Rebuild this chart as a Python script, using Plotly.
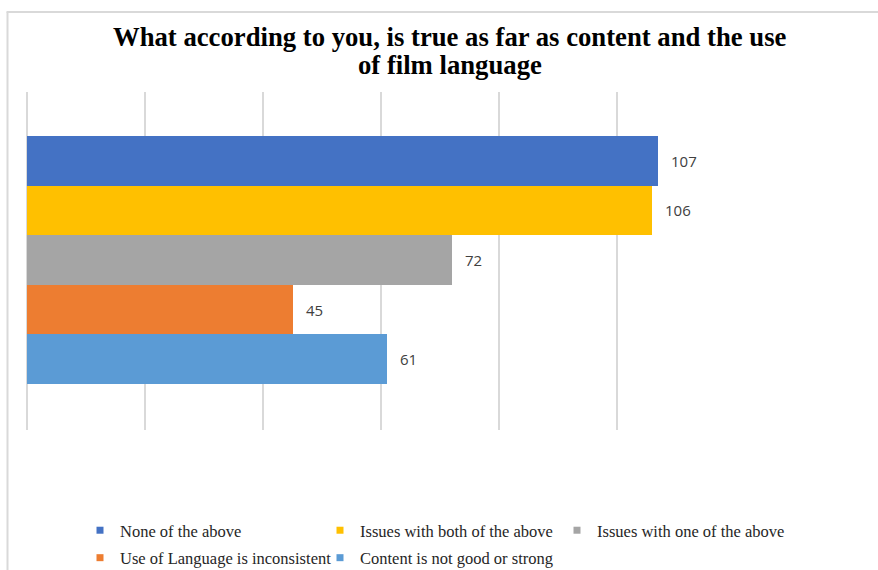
import plotly.graph_objects as go

# Survey responses: what is true about content and film language
categories = [
    "None of the above",
    "Issues with both of the above",
    "Issues with one of the above",
    "Use of Language is inconsistent",
    "Content is not good or strong",
]
values = [107, 106, 72, 45, 61]
colors = ["#4472C4", "#FFC000", "#A5A5A5", "#ED7D31", "#5B9BD5"]
x_ticks = [0, 20, 40, 60, 80, 100, 120]
title_lines = [
    "What according to you, is true as far as content and the use",
    "of film language",
]
# legend laid out in three columns, filled row by row
legend_columns = ["legend", "legend2", "legend3", "legend", "legend2"]
legend_col_x = [80, 320, 557]

W, H = 878, 570
ML, MR, MT, MB = 27, 143, 92, 140
PW, PH = W - ML - MR, H - MT - MB

SERIF = "Liberation Serif, Times New Roman, serif"

fig = go.Figure()

for name, val, col in zip(categories, values, colors):
    fig.add_trace(go.Bar(
        y=[name], x=[val], orientation="h", name=name,
        marker=dict(color=col, line=dict(width=0)),
        showlegend=False, hoverinfo="x+name",
    ))

# small square legend keys
for name, col, lg in zip(categories, colors, legend_columns):
    fig.add_trace(go.Scatter(
        x=[None], y=[None], mode="markers", name=name,
        marker=dict(symbol="square", size=7, color=col),
        showlegend=True, legend=lg, legendgroup=name,
    ))

# value labels just past each bar end
for name, val in zip(categories, values):
    fig.add_annotation(
        x=val, y=name, text=str(val), showarrow=False,
        xanchor="left", yanchor="middle", xshift=11,
        font=dict(family="Open Sans, Liberation Sans, sans-serif", size=15, color="#404040"),
    )


def px_to_paper_x(px):
    return (px - ML) / PW


def px_to_paper_y(py):
    return 1 - (py - MT) / PH


# two-line bold heading, tight line spacing
for line, cy in zip(title_lines, [37, 65]):
    fig.add_annotation(
        xref="paper", yref="paper", x=px_to_paper_x(449.5), y=px_to_paper_y(cy),
        text=line, showarrow=False, xanchor="center", yanchor="middle",
        font=dict(family=SERIF, size=26.7, color="#000000", weight="bold"),
    )

# thin frame along the top and left edges
fig.add_shape(type="line", xref="paper", yref="paper",
              x0=px_to_paper_x(6.5), x1=px_to_paper_x(W + 5),
              y0=px_to_paper_y(12), y1=px_to_paper_y(12),
              line=dict(color="#d9d9d9", width=2))
fig.add_shape(type="line", xref="paper", yref="paper",
              x0=px_to_paper_x(7.5), x1=px_to_paper_x(7.5),
              y0=px_to_paper_y(12), y1=px_to_paper_y(H + 5),
              line=dict(color="#d9d9d9", width=2))

bar_px = 49.6
top_pad = (136 - MT) / bar_px
bot_pad = (MT + PH - 384) / bar_px


def legend_box(px_x):
    return dict(
        orientation="v", xref="container", yref="container",
        x=px_x / W, xanchor="left",
        y=1 - 513 / H, yanchor="top",
        font=dict(family=SERIF, size=16.5, color="#262626"),
        bgcolor="rgba(0,0,0,0)", traceorder="grouped", tracegroupgap=3,
    )


fig.update_layout(
    width=W, height=H,
    margin=dict(l=ML, r=MR, t=MT, b=MB, pad=0, autoexpand=False),
    paper_bgcolor="white", plot_bgcolor="white",
    barmode="relative", bargap=0,
    xaxis=dict(
        range=[0, 120], tickvals=x_ticks, showticklabels=False,
        showgrid=True, gridcolor="#d9d9d9", gridwidth=1.5,
        zeroline=True, zerolinecolor="#d9d9d9", zerolinewidth=1.5,
        showline=False, ticks="", fixedrange=True,
    ),
    yaxis=dict(
        type="category", categoryorder="array", categoryarray=categories,
        range=[4.5 + bot_pad, -0.5 - top_pad],
        showticklabels=False, showgrid=False, zeroline=False, showline=False,
        ticks="", fixedrange=True,
    ),
    legend=legend_box(legend_col_x[0]),
    legend2=legend_box(legend_col_x[1]),
    legend3=legend_box(legend_col_x[2]),
    showlegend=True,
)

fig.write_html("out.html")
